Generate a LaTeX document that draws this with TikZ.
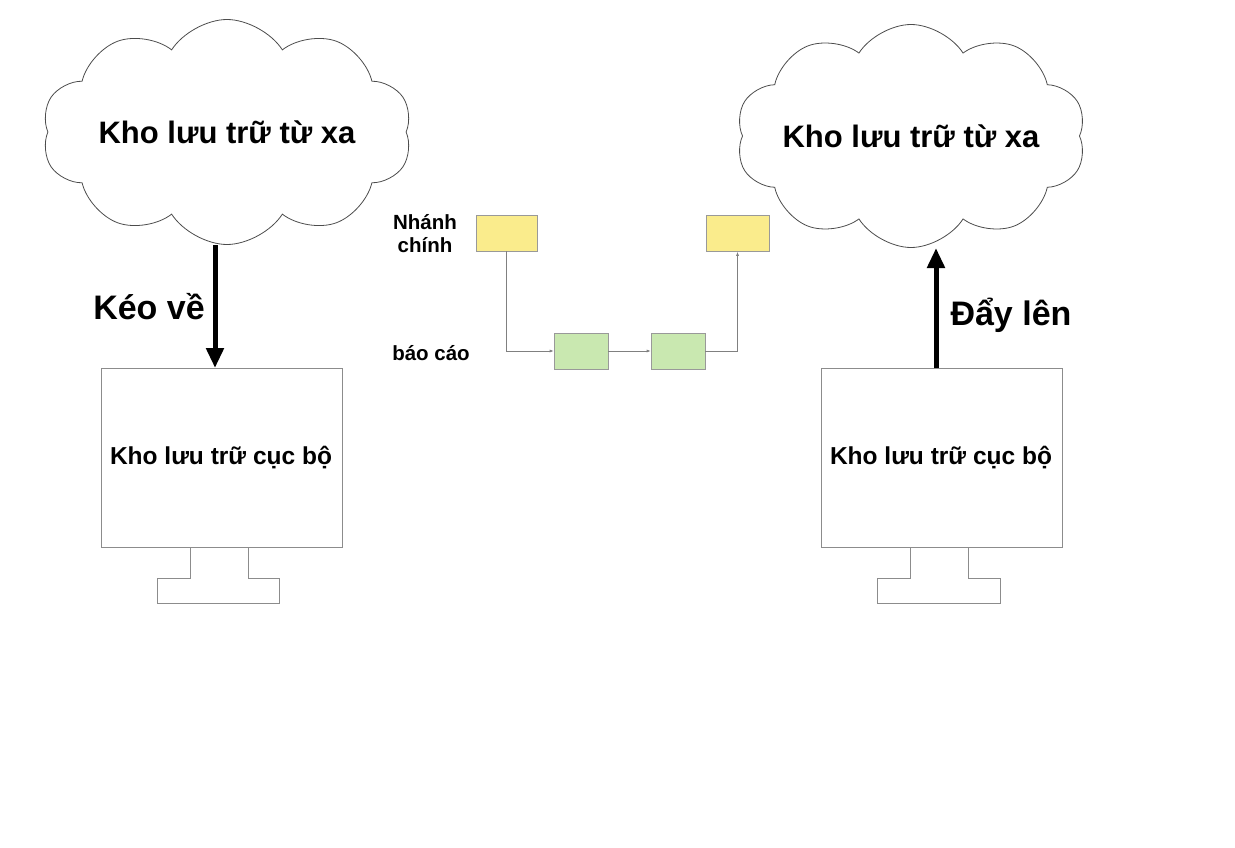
\documentclass[tikz,border=0pt]{standalone}
\usepackage{fontspec}
\setmainfont{Liberation Sans}
\usetikzlibrary{shapes.symbols,arrows.meta}
\definecolor{vang}{HTML}{FAEC8C}
\definecolor{xanh}{HTML}{C9E8B0}
\tikzset{
  may/.style={draw=black!45, line width=1pt},
  dammay/.style={cloud, cloud puffs=10, cloud puff arc=115, draw=black!70, line width=0.8pt, inner sep=0pt},
  commit/.style={draw=black!40, line width=0.6pt, minimum width=#1, minimum height=36pt, inner sep=0pt},
  noi/.style={draw=black!50, line width=0.6pt, -{Latex[length=4pt,width=3pt]}},
  nhan/.style={font=\fontsize{20.5}{23}\selectfont\bfseries, align=center},
  chu/.style={font=\fontsize{24.5}{28}\selectfont\bfseries},
  lon/.style={font=\fontsize{34}{38}\selectfont\bfseries},
  tieude/.style={font=\fontsize{31}{35}\selectfont\bfseries},
}
\begin{document}
\begin{tikzpicture}[x=1pt,y=-1pt]
\useasboundingbox (0,0) rectangle (1235,848);
% clouds
\node[dammay, minimum width=370pt, minimum height=225pt] (remA) at (227,132) {};
\node[tieude] (tA) at (remA.center) {Kho lưu trữ từ xa};
\node[dammay, minimum width=350pt, minimum height=223pt] (remB) at (911,136) {};
\node[tieude] (tB) at (remB.center) {Kho lưu trữ từ xa};
% left computer
\draw[may] (101,368) rectangle (342,547);
\node[chu] (locA) at (221,458) {Kho lưu trữ cục bộ};
\draw[may] (190,547) -- (190,578) -- (157,578) -- (157,603) -- (279,603) -- (279,578) -- (248,578) -- (248,547);
\coordinate (topA) at (215,368);
% right computer
\draw[may] (821,368) rectangle (1062,547);
\node[chu] (locB) at (941,458) {Kho lưu trữ cục bộ};
\draw[may] (910,547) -- (910,578) -- (877,578) -- (877,603) -- (1000,603) -- (1000,578) -- (968,578) -- (968,547);
\coordinate (topB) at (936,368);
% pull / push
\coordinate (botA) at (215,245);
\coordinate (botB) at (936,248);
\draw[line width=5pt, -{Triangle[length=20pt,width=17pt]}] (botA) -- (topA);
\draw[line width=5pt, -{Triangle[length=20pt,width=17pt]}] (topB) -- (botB);
\node[lon] (keo) at (149,307) {Kéo về};
\node[lon] (day) at (1011,315) {Đẩy lên};
% branches
\node[commit=61pt, fill=vang] (m1) at (506.5,233) {};
\node[commit=63pt, fill=vang] (m2) at (737.5,233.5) {};
\node[commit=54pt, fill=xanh] (b1) at (581,351) {};
\node[commit=54pt, fill=xanh] (b2) at (678,351) {};
\node[nhan] (lm) at (425,234) {Nhánh\\chính};
\node[nhan] (lb) at (431,353) {báo cáo};
\draw[noi] (m1.south) |- (b1.west);
\draw[noi] (b1) -- (b2);
\draw[noi] (b2.east) -| (m2.south);
\end{tikzpicture}
\end{document}
